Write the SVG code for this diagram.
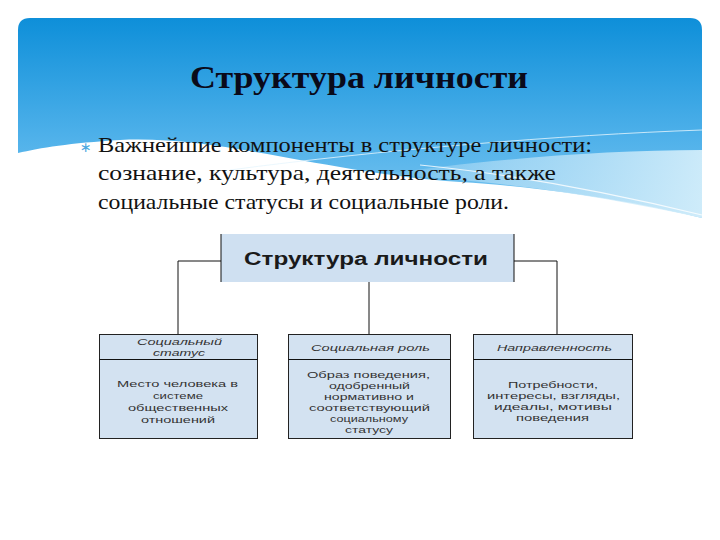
<svg xmlns="http://www.w3.org/2000/svg" width="720" height="540" viewBox="0 0 720 540">
<defs>
<linearGradient id="sky" x1="0" y1="0" x2="0" y2="1">
<stop offset="0" stop-color="#0e8fd9"/>
<stop offset="0.6" stop-color="#4fb1ea"/>
<stop offset="1" stop-color="#7cc6f0"/>
</linearGradient>
<linearGradient id="wave2" x1="0" y1="0" x2="1" y2="0">
<stop offset="0" stop-color="#ffffff" stop-opacity="0"/>
<stop offset="0.5" stop-color="#bfe4f8" stop-opacity="0.7"/>
<stop offset="1" stop-color="#d8f0fb" stop-opacity="0.9"/>
</linearGradient>
<style>
.title{font-family:"Liberation Serif","Times New Roman",serif;font-weight:bold;font-size:32px;fill:#0a0a1a}
.bul{font-family:"Liberation Serif","Times New Roman",serif;font-size:21px;fill:#111}
.star{font-family:"DejaVu Sans",sans-serif;font-size:14px;fill:#4aa8e0}
.box{fill:#d3e2f1;stroke:#222;stroke-width:1}
.hd{font-family:"Liberation Sans",Arial,sans-serif;font-style:italic;font-size:9.5px;fill:#333}
.bd{font-family:"Liberation Sans",Arial,sans-serif;font-size:9.5px;fill:#333}
.main{font-family:"Liberation Sans",Arial,sans-serif;font-weight:bold;font-size:18px;fill:#1a1a1a}
.ln{fill:none;stroke:#111;stroke-width:1}
</style>
</defs>
<rect width="720" height="540" fill="#ffffff"/>
<g id="background">
<path d="M18,30 Q18,18 30,18 L690,18 Q702,18 702,30 L702,218 C650,205 560,188 460,182 C330,174 220,135 120,140 C70,143 40,148 18,153 Z" fill="url(#sky)"/>
<path d="M702,150 C600,150 480,160 380,175 C480,178 600,195 702,218 Z" fill="url(#wave2)"/>
<path d="M230,170 C380,150 560,135 702,130" fill="none" stroke="#e6f5fd" stroke-width="1" opacity="0.8"/>
<path d="M420,165 C520,175 620,195 702,215" fill="none" stroke="#ffffff" stroke-width="1.2" opacity="0.8"/>
</g>
<g id="title">
<text class="title" x="359" y="88" text-anchor="middle" textLength="338" lengthAdjust="spacingAndGlyphs">Структура личности</text>
</g>
<g id="bullet">
<text class="star" x="80" y="152">∗</text>
<text class="bul" x="98" y="152" textLength="494" lengthAdjust="spacingAndGlyphs">Важнейшие компоненты в структуре личности:</text>
<text class="bul" x="98" y="180" textLength="458" lengthAdjust="spacingAndGlyphs">сознание, культура, деятельность, а также</text>
<text class="bul" x="98" y="209" textLength="411" lengthAdjust="spacingAndGlyphs">социальные статусы и социальные роли.</text>
</g>
<g id="connectors">
<path class="ln" d="M221,261 H178 V334"/>
<path class="ln" d="M514,261 H557 V334"/>
<path class="ln" d="M369,282 V334"/>
</g>
<g id="node-main">
<rect x="221" y="234" width="293" height="48" fill="#cfe0f1"/>
<path class="ln" d="M221,234 V282 M514,234 V282"/>
<text class="main" x="244" y="265" textLength="244" lengthAdjust="spacingAndGlyphs">Структура личности</text>
</g>
<g id="node-status">
<rect class="box" x="99.5" y="334.5" width="158" height="104"/>
<line class="ln" x1="99.5" y1="359.5" x2="257.5" y2="359.5" stroke="#555"/>
<text class="hd" x="137" y="345" textLength="85" lengthAdjust="spacingAndGlyphs">Социальный</text>
<text class="hd" x="153" y="356" textLength="52" lengthAdjust="spacingAndGlyphs">статус</text>
<text class="bd" x="117" y="387" textLength="121" lengthAdjust="spacingAndGlyphs">Место человека в</text>
<text class="bd" x="153" y="399" textLength="50" lengthAdjust="spacingAndGlyphs">системе</text>
<text class="bd" x="128" y="411" textLength="100" lengthAdjust="spacingAndGlyphs">общественных</text>
<text class="bd" x="141" y="423" textLength="74" lengthAdjust="spacingAndGlyphs">отношений</text>
</g>
<g id="node-role">
<rect class="box" x="288.5" y="334.5" width="162" height="104"/>
<line class="ln" x1="288.5" y1="359.5" x2="450.5" y2="359.5" stroke="#555"/>
<text class="hd" x="311" y="351" textLength="119" lengthAdjust="spacingAndGlyphs">Социальная роль</text>
<text class="bd" x="307" y="378" textLength="123" lengthAdjust="spacingAndGlyphs">Образ поведения,</text>
<text class="bd" x="329" y="389" textLength="81" lengthAdjust="spacingAndGlyphs">одобренный</text>
<text class="bd" x="324" y="400" textLength="90" lengthAdjust="spacingAndGlyphs">нормативно и</text>
<text class="bd" x="309" y="411" textLength="121" lengthAdjust="spacingAndGlyphs">соответствующий</text>
<text class="bd" x="330" y="422" textLength="78" lengthAdjust="spacingAndGlyphs">социальному</text>
<text class="bd" x="345" y="433" textLength="48" lengthAdjust="spacingAndGlyphs">статусу</text>
</g>
<g id="node-direction">
<rect class="box" x="473.5" y="334.5" width="159" height="104"/>
<line class="ln" x1="473.5" y1="359.5" x2="632.5" y2="359.5" stroke="#555"/>
<text class="hd" x="497" y="351" textLength="115" lengthAdjust="spacingAndGlyphs">Направленность</text>
<text class="bd" x="508" y="388" textLength="90" lengthAdjust="spacingAndGlyphs">Потребности,</text>
<text class="bd" x="487" y="399" textLength="133" lengthAdjust="spacingAndGlyphs">интересы, взгляды,</text>
<text class="bd" x="494" y="410" textLength="118" lengthAdjust="spacingAndGlyphs">идеалы, мотивы</text>
<text class="bd" x="516" y="421" textLength="73" lengthAdjust="spacingAndGlyphs">поведения</text>
</g>
</svg>
